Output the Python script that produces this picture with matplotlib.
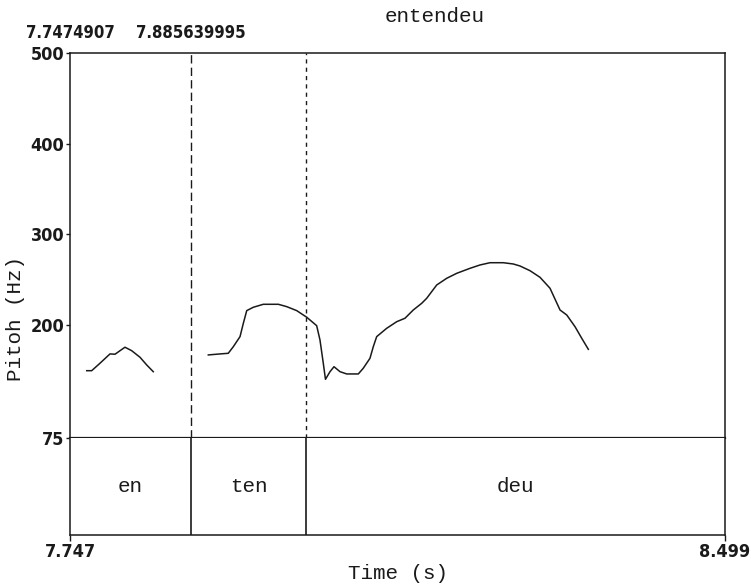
import matplotlib
matplotlib.use("Agg")
import matplotlib.pyplot as plt
import matplotlib.transforms as mtransforms

# Pitch contour (time in s, F0 in Hz), two voiced stretches
seg1_time = [7.7662, 7.7719, 7.7814, 7.7929, 7.7987, 7.8101, 7.8178, 7.8274, 7.8351, 7.8426]
seg1_hz = [149.3, 149.3, 157.5, 167.8, 167.5, 175.2, 171.4, 164.1, 155.6, 148.2]

seg2_time = [7.9058, 7.9192, 7.9287, 7.9345, 7.9422, 7.9460, 7.9499, 7.9574, 7.9689, 7.9862,
             7.9958, 8.0073, 8.0188, 8.0302, 8.0340, 8.0378, 8.0403, 8.0455, 8.0501, 8.0570,
             8.0647, 8.0780, 8.0837, 8.0914, 8.0952, 8.0991, 8.1106, 8.1221, 8.1316, 8.1411,
             8.1508, 8.1565, 8.1680, 8.1795, 8.1910, 8.2062, 8.2177, 8.2292, 8.2445, 8.2559,
             8.2636, 8.2751, 8.2866, 8.2981, 8.3096, 8.3173, 8.3268, 8.3345, 8.3421]
seg2_hz = [166.7, 167.8, 168.5, 175.8, 186.9, 201.6, 215.6, 219.3, 222.6, 222.6,
           220.0, 215.6, 208.3, 199.0, 183.2, 157.5, 139.8, 148.2, 153.7, 148.2,
           145.7, 145.7, 152.0, 163.0, 175.8, 186.9, 196.1, 203.4, 207.2, 216.3,
           223.7, 229.2, 243.9, 251.3, 256.8, 262.3, 266.0, 268.5, 268.5, 267.1,
           264.9, 259.7, 252.4, 240.3, 216.3, 210.8, 197.9, 185.1, 172.9]

# Syllable tier
tier_bounds = [7.747, 7.8856, 8.0181, 8.499]
tier_labels = ["en", "ten", "deu"]
boundary_times_text = ["7.7474907", "7.885639995"]

t_min, t_max = 7.747, 8.499
f_min, f_max = 75, 500
y_ticks = [75, 200, 300, 400, 500]
title = "entendeu"

mono = ["Liberation Mono", "DejaVu Sans Mono"]
num_font = dict(family="DejaVu Sans", fontstretch="condensed", fontweight="bold")

W, H = 751, 586
fig = plt.figure(figsize=(W / 100, H / 100), dpi=100)
fig.patch.set_facecolor("white")

def box(x0, y0, x1, y1):
    return [x0 / W, 1 - y1 / H, (x1 - x0) / W, (y1 - y0) / H]

ax = fig.add_axes(box(70, 53, 725, 438))
axt = fig.add_axes(box(70, 438, 725, 535))

ink = "#1a1a1a"

# Pitch panel
ax.plot(seg1_time, seg1_hz, color=ink, lw=1.1)
ax.plot(seg2_time, seg2_hz, color=ink, lw=1.1)
ax.axvline(tier_bounds[1], color=ink, lw=1.0, linestyle=(0, (6, 3)))
ax.axvline(tier_bounds[2], color=ink, lw=1.0, linestyle=(0, (3, 3)))
ax.set_xlim(t_min, t_max)
ax.set_ylim(f_min, f_max)
ax.set_xticks([])
ax.set_yticks(y_ticks)
ax.set_yticklabels([str(v) for v in y_ticks], fontsize=13, **num_font)
ax.tick_params(axis="y", direction="out", length=3, width=1.0, pad=1, colors=ink)
for s in ax.spines.values():
    s.set_linewidth(1.1)
    s.set_color(ink)
ax.spines["bottom"].set_linewidth(1.6)
ax.set_ylabel("Pitoh (Hz)", family=mono, fontsize=15, color=ink)
ax.yaxis.set_label_coords(-0.068, 0.31)

# Boundary times printed above the pitch panel
trans = mtransforms.blended_transform_factory(ax.transData, ax.transAxes)
for t, txt in zip(tier_bounds[:2], boundary_times_text):
    ax.text(t, 1.052, txt, transform=trans, ha="center", va="center",
            fontsize=12, color=ink, **num_font)

fig.text(435 / W, 1 - 17 / H, title, family=mono, fontsize=15, ha="center", va="center", color=ink)

# Text tier
for b in tier_bounds[1:-1]:
    axt.axvline(b, color=ink, lw=1.2)
for i, lab in enumerate(tier_labels):
    mid = (tier_bounds[i] + tier_bounds[i + 1]) / 2
    axt.text(mid, 0.5, lab, family=mono, fontsize=15, ha="center", va="center", color=ink)
axt.set_xlim(t_min, t_max)
axt.set_ylim(0, 1)
axt.set_yticks([])
axt.set_xticks([t_min, t_max])
axt.set_xticklabels(["7.747", "8.499"], fontsize=13, **num_font)
axt.tick_params(axis="x", direction="out", length=4, width=1.0, pad=2, colors=ink)
for s in axt.spines.values():
    s.set_linewidth(1.1)
    s.set_color(ink)
axt.spines["top"].set_visible(False)
axt.set_xlabel("Time (s)", family=mono, fontsize=15, color=ink, labelpad=2)

fig.savefig("out.png", dpi=100, facecolor="white")
